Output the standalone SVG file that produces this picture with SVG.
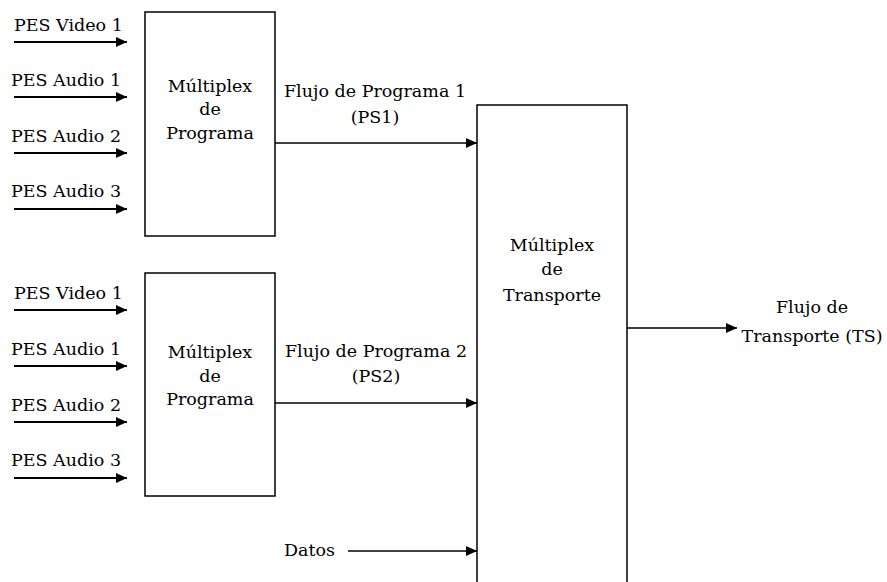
<svg xmlns="http://www.w3.org/2000/svg" width="887" height="582" viewBox="0 0 887 582">
<style>
  .box { fill: #ffffff; stroke: #000000; stroke-width: 1.5; }
  .line { stroke: #000000; stroke-width: 2; fill: none; }
  .thin { stroke-width: 1.5; }
  .t { font-family: "DejaVu Serif", "Liberation Serif", serif; font-size: 17.5px; fill: #000000; }
  .c { text-anchor: middle; }
</style>
<defs>
  <marker id="ah" viewBox="0 0 11 10" refX="11" refY="5" markerWidth="11" markerHeight="10" markerUnits="userSpaceOnUse" orient="auto">
    <path d="M0,0 L11,5 L0,10 Z" fill="#000000"/>
  </marker>
</defs>
<rect width="887" height="582" fill="#ffffff"/>

<g id="mux1">
  <rect class="box" x="145" y="12" width="130" height="224"/>
  <text class="t c" x="210" y="92">Múltiplex</text>
  <text class="t c" x="210" y="115">de</text>
  <text class="t c" x="210" y="139">Programa</text>
</g>
<g id="mux2">
  <rect class="box" x="145" y="273" width="130" height="223"/>
  <text class="t c" x="210" y="358">Múltiplex</text>
  <text class="t c" x="210" y="382">de</text>
  <text class="t c" x="210" y="405">Programa</text>
</g>
<g id="transport">
  <rect class="box" x="477" y="105" width="150" height="490"/>
  <text class="t c" x="552" y="251">Múltiplex</text>
  <text class="t c" x="552" y="275">de</text>
  <text class="t c" x="552" y="301">Transporte</text>
</g>

<g id="labels">
  <text class="t" x="14" y="31">PES Video 1</text>
  <text class="t" x="11" y="86">PES Audio 1</text>
  <text class="t" x="11" y="142">PES Audio 2</text>
  <text class="t" x="11" y="197">PES Audio 3</text>
  <text class="t" x="14" y="299">PES Video 1</text>
  <text class="t" x="11" y="355">PES Audio 1</text>
  <text class="t" x="11" y="411">PES Audio 2</text>
  <text class="t" x="11" y="466">PES Audio 3</text>
  <text class="t c" x="375" y="97">Flujo de Programa  1</text>
  <text class="t c" x="375" y="123">(PS1)</text>
  <text class="t c" x="376" y="357">Flujo de Programa  2</text>
  <text class="t c" x="376" y="382">(PS2)</text>
  <text class="t c" x="812" y="313">Flujo de</text>
  <text class="t c" x="812" y="342">Transporte (TS)</text>
  <text class="t" x="284" y="556">Datos</text>
</g>

<g id="connectors">
  <line class="line" x1="14" y1="42" x2="127" y2="42" marker-end="url(#ah)"/>
  <line class="line" x1="14" y1="97" x2="127" y2="97" marker-end="url(#ah)"/>
  <line class="line" x1="14" y1="153" x2="127" y2="153" marker-end="url(#ah)"/>
  <line class="line" x1="14" y1="209" x2="127" y2="209" marker-end="url(#ah)"/>
  <line class="line" x1="14" y1="310" x2="127" y2="310" marker-end="url(#ah)"/>
  <line class="line" x1="14" y1="366" x2="127" y2="366" marker-end="url(#ah)"/>
  <line class="line" x1="14" y1="422" x2="127" y2="422" marker-end="url(#ah)"/>
  <line class="line" x1="14" y1="478" x2="127" y2="478" marker-end="url(#ah)"/>
  <line class="line thin" x1="275" y1="143" x2="477" y2="143" marker-end="url(#ah)"/>
  <line class="line thin" x1="275" y1="403" x2="477" y2="403" marker-end="url(#ah)"/>
  <line class="line thin" x1="348" y1="551" x2="477" y2="551" marker-end="url(#ah)"/>
  <line class="line thin" x1="627" y1="328" x2="737" y2="328" marker-end="url(#ah)"/>
</g>
</svg>
